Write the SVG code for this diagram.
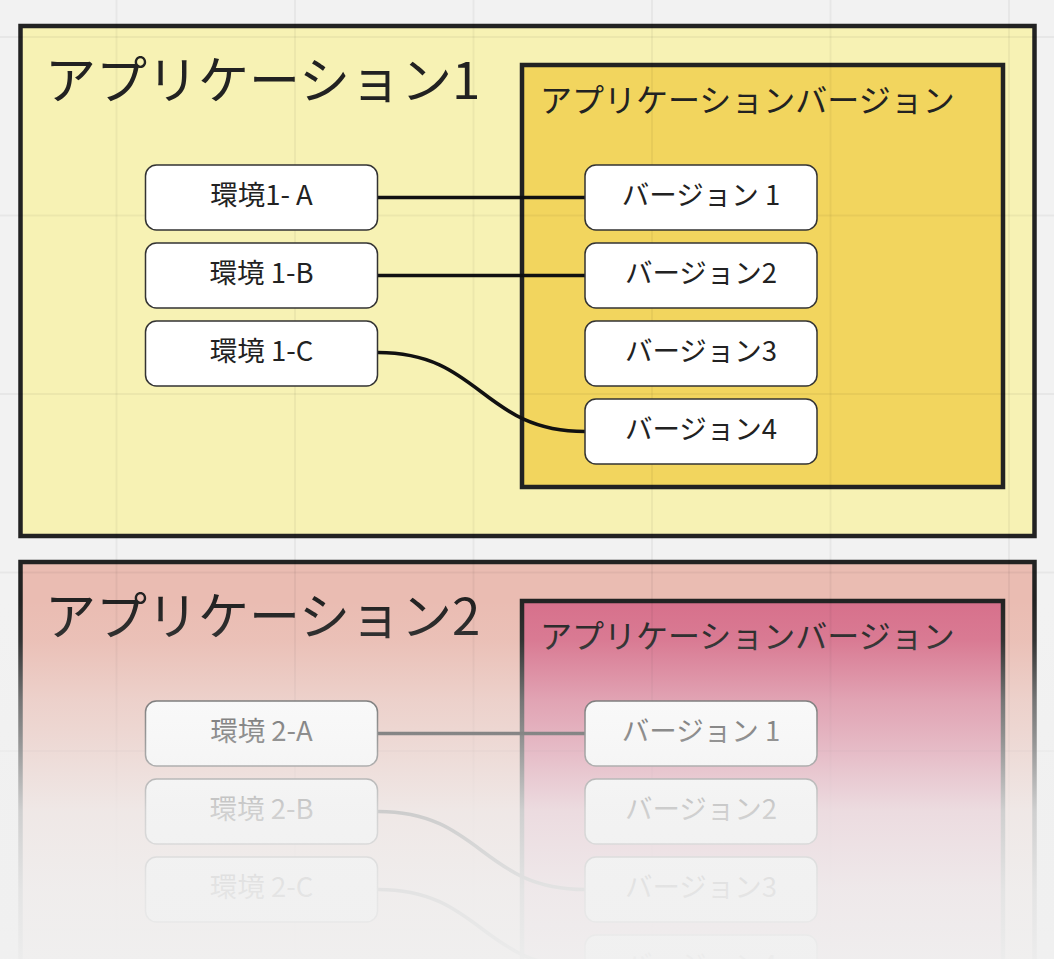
<svg xmlns="http://www.w3.org/2000/svg" width="1054" height="959" viewBox="0 0 1054 959">
<defs>
<style>
.bg{fill:#f2f2f2}
.grid line{stroke:#000;stroke-opacity:0.045;stroke-width:2}
.outer{stroke:#222;stroke-width:4.5}
.inner{stroke:#222;stroke-width:4.5}
.node rect{fill:#fff;stroke:#333;stroke-width:1.5}
.ntext{font-family:"Noto Sans CJK JP","Noto Sans",sans-serif;font-size:27.5px;fill:#222;text-anchor:middle}
.title{font-family:"Noto Sans CJK JP","Noto Sans",sans-serif;font-size:51px;fill:#222}
.sub{font-family:"Noto Sans CJK JP","Noto Sans",sans-serif;font-size:32px;fill:#222}
.conn path{fill:none;stroke:#111;stroke-width:3.5}
</style>
<linearGradient id="fade" gradientUnits="userSpaceOnUse" x1="0" y1="560" x2="0" y2="959">
<stop offset="0" stop-color="#f0f0f0" stop-opacity="0"/>
<stop offset="0.1" stop-color="#f0f0f0" stop-opacity="0"/>
<stop offset="0.2" stop-color="#f0f0f0" stop-opacity="0.08"/>
<stop offset="0.351" stop-color="#f0f0f0" stop-opacity="0.4"/>
<stop offset="0.434" stop-color="#f0f0f0" stop-opacity="0.52"/>
<stop offset="0.629" stop-color="#f0f0f0" stop-opacity="0.84"/>
<stop offset="0.825" stop-color="#f0f0f0" stop-opacity="0.94"/>
<stop offset="1" stop-color="#f0f0f0" stop-opacity="0.98"/>
</linearGradient>
</defs>
<rect class="bg" x="0" y="0" width="1054" height="959"/>

<g id="app1">
<rect class="outer" x="20.5" y="26" width="1014" height="510" fill="#f7f2b4"/>
<text class="title" x="45" y="99">アプリケーション1</text>
</g>
<g id="app1-versions">
<rect class="inner" x="522" y="65" width="481" height="422" fill="#f2d55e"/>
<text class="sub" x="540" y="112">アプリケーションバージョン</text>
</g>

<g id="app2">
<rect class="outer" x="20.5" y="562" width="1014" height="510" fill="#eabcb2"/>
<text class="title" x="45" y="635">アプリケーション2</text>
</g>
<g id="app2-versions">
<rect class="inner" x="522" y="601" width="481" height="422" fill="#d7708b"/>
<text class="sub" x="540" y="648">アプリケーションバージョン</text>
</g>

<g class="grid">
<line x1="116.5" y1="0" x2="116.5" y2="959"/>
<line x1="295" y1="0" x2="295" y2="959"/>
<line x1="473.5" y1="0" x2="473.5" y2="959"/>
<line x1="652" y1="0" x2="652" y2="959"/>
<line x1="830.5" y1="0" x2="830.5" y2="959"/>
<line x1="1009" y1="0" x2="1009" y2="959"/>
<line x1="0" y1="37" x2="1054" y2="37"/>
<line x1="0" y1="215.5" x2="1054" y2="215.5"/>
<line x1="0" y1="394" x2="1054" y2="394"/>
<line x1="0" y1="572.5" x2="1054" y2="572.5"/>
<line x1="0" y1="751" x2="1054" y2="751"/>
<line x1="0" y1="929.5" x2="1054" y2="929.5"/>
</g>

<g class="conn" id="connectors">
<path d="M378,197.5 H585"/>
<path d="M378,275.5 H585"/>
<path d="M378,352.5 C481.5,352.5 481.5,431.5 585,431.5"/>
<path d="M378,733.5 H585"/>
<path d="M378,811.5 C481.5,811.5 481.5,889.5 585,889.5"/>
<path d="M378,889.5 C481.5,889.5 481.5,967.5 585,967.5"/>
</g>

<g id="env1a" class="node"><rect x="145.5" y="165" width="232" height="65" rx="11"/><text class="ntext" x="261.5" y="205">環境1- A</text></g>
<g id="env1b" class="node"><rect x="145.5" y="243" width="232" height="65" rx="11"/><text class="ntext" x="261.5" y="283">環境 1-B</text></g>
<g id="env1c" class="node"><rect x="145.5" y="321" width="232" height="65" rx="11"/><text class="ntext" x="261.5" y="361">環境 1-C</text></g>
<g id="ver1-1" class="node"><rect x="585" y="165" width="232" height="65" rx="11"/><text class="ntext" x="701" y="205">バージョン 1</text></g>
<g id="ver1-2" class="node"><rect x="585" y="243" width="232" height="65" rx="11"/><text class="ntext" x="701" y="283">バージョン2</text></g>
<g id="ver1-3" class="node"><rect x="585" y="321" width="232" height="65" rx="11"/><text class="ntext" x="701" y="361">バージョン3</text></g>
<g id="ver1-4" class="node"><rect x="585" y="399" width="232" height="65" rx="11"/><text class="ntext" x="701" y="439">バージョン4</text></g>

<g id="env2a" class="node"><rect x="145.5" y="701" width="232" height="65" rx="11"/><text class="ntext" x="261.5" y="741">環境 2-A</text></g>
<g id="env2b" class="node"><rect x="145.5" y="779" width="232" height="65" rx="11"/><text class="ntext" x="261.5" y="819">環境 2-B</text></g>
<g id="env2c" class="node"><rect x="145.5" y="857" width="232" height="65" rx="11"/><text class="ntext" x="261.5" y="897">環境 2-C</text></g>
<g id="ver2-1" class="node"><rect x="585" y="701" width="232" height="65" rx="11"/><text class="ntext" x="701" y="741">バージョン 1</text></g>
<g id="ver2-2" class="node"><rect x="585" y="779" width="232" height="65" rx="11"/><text class="ntext" x="701" y="819">バージョン2</text></g>
<g id="ver2-3" class="node"><rect x="585" y="857" width="232" height="65" rx="11"/><text class="ntext" x="701" y="897">バージョン3</text></g>
<g id="ver2-4" class="node"><rect x="585" y="935" width="232" height="65" rx="11"/><text class="ntext" x="701" y="975">バージョン4</text></g>

<rect x="0" y="558" width="1054" height="401" fill="url(#fade)"/>
</svg>
